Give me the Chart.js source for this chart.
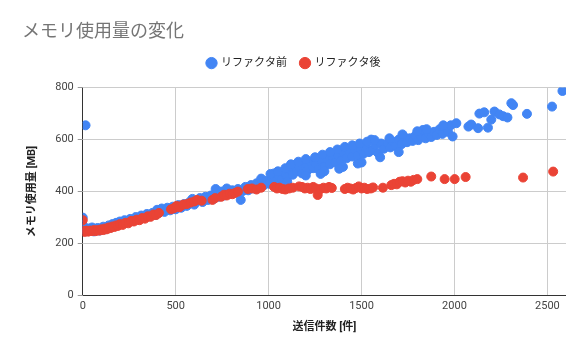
<!DOCTYPE html>
<html>
<head>
<meta charset="utf-8">
<script src="https://cdn.jsdelivr.net/npm/chart.js@4/dist/chart.umd.min.js"></script>
<style>
	html, body { margin: 0; padding: 0; background: #fff; }
	#wrap { width: 586px; height: 362px; }
</style>
</head>
<body>
<div id="wrap"><canvas id="myChart"></canvas></div>
<script>
// リファクタ前 (blue)
const beforeX = [0, 0, 3, 15, 8, 20, 30, 40, 50, 60, 70, 80, 90, 100, 110, 120, 130, 140, 150, 160, 170, 180, 190, 200, 210, 225, 240, 255, 270, 285, 300, 315, 330, 345, 360, 375, 390, 400, 410, 425, 440, 455, 470, 485, 500, 515, 530, 545, 560, 575, 590, 600, 615, 630, 645, 660, 675, 690, 705, 715, 730, 745, 760, 775, 790, 805, 820, 835, 850, 860, 875, 890, 905, 920, 935, 950, 960, 975, 990, 1005, 1020, 1030, 1040, 1055, 1070, 1085, 1100, 1115, 1130, 1140, 1150, 1165, 1180, 1195, 1210, 1228, 1240, 1255, 1270, 1285, 1300, 1315, 1330, 1345, 1360, 1375, 1390, 1405, 1420, 1435, 1450, 1465, 1480, 1495, 1510, 1525, 1540, 1552, 1560, 1575, 1590, 1605, 1620, 1641, 1655, 1670, 1685, 1700, 1715, 1730, 1745, 1760, 1775, 1790, 1805, 1820, 1830, 1845, 1860, 1875, 1890, 1905, 1920, 1935, 1950, 1965, 1980, 1990, 2010, 2075, 2090, 2127, 2134, 2160, 2180, 2198, 2215, 2241, 2262, 2285, 2306, 2315, 2390, 2525, 2581,
	1010, 1050, 1090, 1120, 1160, 1200, 1250, 1290, 1330, 1370, 1410, 1450, 1490, 1530, 1570, 1650, 1720, 1800, 1850, 1940, 1100, 1200, 1300, 1400, 1500, 1600, 1700, 1480, 1380, 1280];
const beforeY = [300, 272, 255, 655, 262, 248, 258, 250, 262, 247, 255, 260, 250, 258, 265, 255, 262, 270, 262, 275, 268, 280, 272, 285, 276, 290, 282, 295, 288, 302, 294, 308, 300, 314, 305, 318, 310, 330, 318, 335, 322, 338, 328, 342, 332, 348, 338, 352, 345, 360, 372, 350, 365, 375, 360, 380, 368, 385, 372, 410, 380, 400, 385, 412, 392, 405, 395, 410, 368, 402, 418, 405, 425, 412, 432, 418, 450, 425, 442, 430, 455, 470, 440, 462, 448, 472, 455, 485, 465, 503, 478, 495, 470, 505, 482, 515, 490, 508, 485, 518, 498, 525, 505, 535, 512, 540, 520, 548, 528, 555, 535, 560, 540, 565, 545, 578, 552, 600, 560, 580, 548, 585, 565, 586, 570, 592, 575, 600, 582, 610, 590, 605, 595, 615, 598, 612, 637, 605, 625, 610, 630, 618, 640, 622, 648, 630, 655, 612, 663, 650, 658, 644, 700, 705, 646, 677, 708, 697, 690, 685, 740, 733, 699, 727, 787,
	468, 478, 490, 505, 515, 525, 532, 542, 552, 562, 572, 578, 585, 592, 598, 605, 620, 632, 640, 655, 438, 462, 478, 495, 512, 532, 552, 508, 488, 468];

// リファクタ後 (red)
const afterX = [0, 0, 5, 10, 20, 30, 40, 50, 60, 70, 80, 90, 100, 110, 120, 130, 140, 150, 160, 170, 180, 190, 200, 215, 230, 245, 260, 275, 290, 305, 320, 335, 350, 365, 380, 395, 410, 475, 490, 505, 520, 540, 560, 580, 600, 615, 640, 698, 712, 745, 760, 775, 790, 805, 820, 835, 888, 910, 935, 960, 1030, 1045, 1060, 1075, 1090, 1110, 1130, 1164, 1180, 1195, 1210, 1225, 1240, 1255, 1264, 1280, 1295, 1310, 1325, 1340, 1410, 1425, 1440, 1455, 1470, 1485, 1500, 1515, 1530, 1550, 1562, 1615, 1660, 1675, 1690, 1705, 1720, 1735, 1750, 1765, 1780, 1800, 1875, 1947, 2001, 2060, 2369, 2531];
const afterY = [290, 250, 248, 245, 250, 246, 250, 248, 252, 248, 252, 250, 255, 252, 258, 255, 262, 260, 266, 264, 270, 268, 275, 272, 280, 278, 287, 285, 292, 290, 298, 296, 305, 303, 312, 310, 318, 332, 336, 345, 340, 350, 352, 358, 362, 368, 365, 368, 375, 380, 388, 385, 392, 390, 395, 400, 410, 412, 408, 415, 418, 412, 415, 410, 408, 412, 415, 420, 418, 412, 415, 410, 418, 412, 387, 410, 415, 412, 418, 414, 410, 415, 412, 408, 414, 420, 412, 415, 410, 412, 416, 415, 425, 430, 428, 438, 440, 435, 442, 438, 445, 448, 458, 448, 448, 456, 454, 477];

const xTicks = [0, 500, 1000, 1500, 2000, 2500];
const yTicks = [0, 200, 400, 600, 800];

const toPoints = (xs, ys) => xs.map((x, i) => ({ x: x, y: ys[i] }));

const fontFamily = "Roboto, 'Noto Sans CJK JP', sans-serif";

// leave a gap between legend and plot
const legendGap = {
	id: "legendGap",
	beforeInit(chart) {
		const origFit = chart.legend.fit;
		chart.legend.fit = function () {
			origFit.bind(chart.legend)();
			this.height += 9;
		};
	}
};

new Chart("myChart", {
	type: "scatter",
	data: {
		datasets: [
			{
				label: "リファクタ前",
				data: toPoints(beforeX, beforeY),
				backgroundColor: "#4285F4",
				borderColor: "#4285F4",
				pointRadius: 4.5,
				order: 1
			},
			{
				label: "リファクタ後",
				data: toPoints(afterX, afterY),
				backgroundColor: "#EA4335",
				borderColor: "#EA4335",
				pointRadius: 4.5,
				order: 0
			}
		]
	},
	plugins: [legendGap],
	options: {
		responsive: true,
		maintainAspectRatio: false,
		animation: false,
		layout: {
			padding: { left: 22, right: 20, top: 0, bottom: 24 }
		},
		plugins: {
			title: {
				display: true,
				text: "メモリ使用量の変化",
				align: "start",
				color: "#757575",
				font: { family: fontFamily, size: 18, weight: "normal" },
				padding: { top: 22, bottom: 0 }
			},
			legend: {
				display: true,
				position: "top",
				labels: {
					usePointStyle: true,
					pointStyle: "circle",
					boxWidth: 8,
					boxHeight: 8,
					padding: 14,
					color: "#222",
					font: { family: fontFamily, size: 11 },
					sort: (a, b) => a.datasetIndex - b.datasetIndex
				}
			},
			tooltip: { enabled: false }
		},
		scales: {
			x: {
				type: "linear",
				min: 0,
				max: 2600,
				afterBuildTicks: (scale) => { scale.ticks = xTicks.map(v => ({ value: v })); },
				grid: {
					color: (ctx) => ctx.tick && ctx.tick.value === 0 ? "#333" : "#ccc",
					drawTicks: false
				},
				border: { display: false },
				ticks: {
					color: "#444",
					font: { family: fontFamily, size: 11 },
					padding: 4,
					callback: (v) => String(v)
				},
				title: {
					display: true,
					text: "送信件数 [件]",
					color: "#222",
					font: { family: fontFamily, size: 11, weight: "bold" },
					padding: { top: 4 }
				}
			},
			y: {
				min: 0,
				max: 800,
				afterBuildTicks: (scale) => { scale.ticks = yTicks.map(v => ({ value: v })); },
				grid: {
					color: (ctx) => ctx.tick && ctx.tick.value === 0 ? "#333" : "#ccc",
					tickColor: "#999",
					tickLength: 5
				},
				border: { display: false },
				ticks: {
					color: "#444",
					font: { family: fontFamily, size: 11 },
					padding: 4,
					callback: (v) => String(v)
				},
				title: {
					display: true,
					text: "メモリ使用量 [MB]",
					color: "#222",
					font: { family: fontFamily, size: 11, weight: "bold" },
					padding: { bottom: 12 }
				}
			}
		}
	}
});
</script>
</body>
</html>
